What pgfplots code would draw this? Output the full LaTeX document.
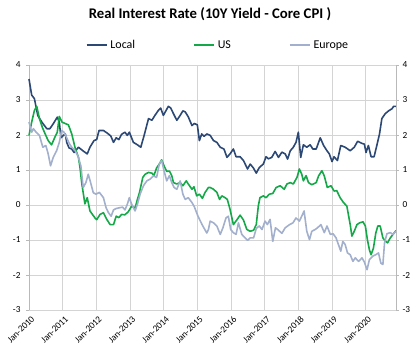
\documentclass[border=0pt]{standalone}
\usepackage{pgfplots}
\pgfplotsset{compat=1.18}
\usepackage{fontspec}
\setmainfont{Carlito}
\definecolor{localc}{RGB}{44,72,117}
\definecolor{usc}{RGB}{20,168,72}
\definecolor{euc}{RGB}{162,176,205}
\definecolor{gridc}{RGB}{212,212,212}
\definecolor{axc}{RGB}{185,185,185}
\begin{document}
\begin{tikzpicture}[x=1bp,y=1bp]
\useasboundingbox (0,0) rectangle (419,353);
\node[font=\bfseries\fontsize{14.8}{17}\selectfont] at (210,339) {Real Interest Rate (10Y Yield - Core CPI )};
\begin{axis}[
  at={(29bp,43bp)}, anchor=south west,
  width=367bp, height=245bp, scale only axis,
  xmin=2010, xmax=2020.9, ymin=-3, ymax=4,
  xtick={2010,2011,...,2020},
  xticklabels={Jan-2010,Jan-2011,Jan-2012,Jan-2013,Jan-2014,Jan-2015,Jan-2016,Jan-2017,Jan-2018,Jan-2019,Jan-2020},
  ytick={-3,-2,...,4},
  /pgf/number format/assume math mode=true,
  grid=major,
  major grid style={draw=gridc, line width=0.9bp},
  axis x line*=bottom, axis y line*=left,
  axis line style={draw=axc, line width=0.9bp},
  x axis line style={draw=none},
  tick style={draw=axc, line width=0.8bp},
  tick align=outside, major tick length=3bp,
  xtick style={draw=none},
  ticklabel style={font=\fontsize{9.3}{10}\selectfont, text=black},
  xticklabel style={rotate=45, anchor=east, xshift=3bp, yshift=-6bp},
  yticklabel style={xshift=-2bp},
  legend columns=3,
  legend style={at={(0.515,1.082)}, anchor=center, draw=none, fill=none,
    font=\fontsize{12}{14}\selectfont, inner sep=0pt,
    /tikz/every even column/.append style={column sep=56bp},
    /tikz/every odd column/.append style={column sep=1bp}},
  legend image code/.code={\draw[#1] (0bp,0bp) -- (20bp,0bp);},
  every axis plot/.append style={line width=1.6bp, line join=round},
  clip=false,
]
\addplot[localc] table {
2010.00 3.60
2010.08 3.14
2010.16 3.04
2010.26 2.56
2010.38 2.37
2010.53 2.18
2010.62 2.18
2010.72 2.32
2010.84 2.51
2010.90 2.37
2010.95 1.92
2011.02 1.99
2011.08 2.03
2011.12 1.79
2011.19 1.63
2011.27 1.60
2011.34 1.50
2011.47 1.65
2011.60 1.55
2011.73 1.46
2011.81 1.65
2011.93 1.84
2012.01 1.87
2012.08 2.13
2012.21 2.13
2012.33 2.05
2012.43 1.97
2012.51 1.79
2012.59 1.92
2012.67 1.87
2012.75 2.02
2012.85 2.08
2012.92 1.99
2012.98 2.08
2013.10 1.79
2013.22 1.72
2013.32 1.65
2013.42 1.99
2013.55 2.47
2013.65 2.42
2013.74 2.56
2013.84 2.70
2013.91 2.77
2013.99 2.56
2014.07 2.70
2014.14 2.82
2014.21 2.77
2014.29 2.61
2014.39 2.42
2014.49 2.56
2014.57 2.69
2014.64 2.66
2014.73 2.52
2014.84 2.27
2014.91 2.33
2015.00 2.29
2015.06 1.84
2015.13 2.03
2015.20 1.96
2015.28 2.03
2015.38 1.99
2015.48 1.84
2015.58 1.79
2015.68 1.65
2015.79 1.60
2015.88 1.36
2015.97 1.46
2016.07 1.60
2016.15 1.38
2016.27 1.38
2016.37 1.27
2016.49 1.03
2016.57 1.17
2016.67 1.05
2016.75 0.91
2016.84 1.07
2016.96 1.17
2017.04 1.38
2017.11 1.32
2017.21 1.36
2017.31 1.53
2017.41 1.36
2017.51 1.51
2017.61 1.46
2017.68 1.31
2017.76 1.55
2017.85 1.65
2017.93 1.79
2018.00 2.08
2018.07 1.36
2018.15 1.72
2018.25 1.65
2018.35 1.72
2018.43 1.60
2018.53 1.60
2018.65 1.92
2018.75 1.70
2018.85 1.55
2018.92 1.46
2019.00 1.24
2019.06 1.38
2019.16 1.27
2019.26 1.70
2019.39 1.65
2019.54 1.55
2019.66 1.65
2019.76 1.82
2019.89 1.76
2019.96 1.74
2020.01 1.50
2020.08 1.70
2020.16 1.38
2020.25 1.38
2020.33 1.70
2020.41 2.03
2020.48 2.47
2020.58 2.61
2020.68 2.69
2020.78 2.75
2020.83 2.82
2020.90 2.82
};
\addlegendentry{Local}
\addplot[usc] table {
2010.00 1.99
2010.08 2.37
2010.16 2.70
2010.23 2.82
2010.31 2.47
2010.40 2.21
2010.48 2.03
2010.57 1.84
2010.67 1.72
2010.77 1.94
2010.84 2.08
2010.90 2.53
2010.98 2.37
2011.07 2.33
2011.17 2.29
2011.27 2.03
2011.37 1.63
2011.47 1.36
2011.52 1.03
2011.57 0.60
2011.61 0.35
2011.66 0.03
2011.73 0.21
2011.81 -0.17
2011.96 -0.37
2012.01 -0.42
2012.11 -0.27
2012.21 -0.22
2012.31 -0.41
2012.41 -0.56
2012.51 -0.56
2012.59 -0.32
2012.67 -0.36
2012.75 -0.27
2012.85 -0.28
2012.95 -0.19
2013.05 -0.03
2013.15 -0.09
2013.22 0.16
2013.28 0.35
2013.38 0.79
2013.45 0.88
2013.55 0.93
2013.65 0.91
2013.71 0.84
2013.79 1.06
2013.87 1.17
2013.94 1.29
2014.01 1.12
2014.09 0.96
2014.17 0.97
2014.24 0.84
2014.29 0.64
2014.39 0.60
2014.49 0.64
2014.57 0.55
2014.67 0.69
2014.73 0.60
2014.84 0.45
2014.90 0.52
2014.98 0.26
2015.06 0.31
2015.15 0.19
2015.23 0.36
2015.33 0.50
2015.38 0.50
2015.48 0.45
2015.58 0.36
2015.66 0.16
2015.73 0.26
2015.82 0.21
2015.89 0.16
2015.97 -0.12
2016.07 -0.56
2016.17 -0.43
2016.27 -0.29
2016.37 -0.43
2016.47 -0.70
2016.57 -0.75
2016.67 -0.72
2016.75 -0.56
2016.81 -0.03
2016.86 0.21
2016.96 0.26
2017.04 0.21
2017.14 0.31
2017.24 0.33
2017.34 0.50
2017.46 0.55
2017.58 0.45
2017.66 0.60
2017.76 0.64
2017.85 0.60
2017.96 0.79
2018.03 1.03
2018.10 0.88
2018.15 0.69
2018.23 0.84
2018.30 0.64
2018.40 0.58
2018.53 0.64
2018.60 0.83
2018.70 0.98
2018.77 0.83
2018.86 0.50
2018.97 0.55
2019.06 0.40
2019.14 0.41
2019.24 0.21
2019.34 0.07
2019.44 -0.03
2019.54 -0.56
2019.59 -0.89
2019.66 -0.75
2019.74 -0.56
2019.82 -0.51
2019.92 -0.48
2019.99 -0.60
2020.05 -0.99
2020.11 -1.28
2020.16 -1.42
2020.23 -1.23
2020.30 -0.80
2020.36 -0.60
2020.43 -0.60
2020.51 -0.94
2020.58 -1.03
2020.65 -1.08
2020.73 -0.94
2020.81 -0.84
2020.90 -0.73
};
\addlegendentry{US}
\addplot[euc] table {
2010.00 2.37
2010.08 2.08
2010.13 2.18
2010.21 2.08
2010.31 1.99
2010.41 1.65
2010.50 1.70
2010.57 1.46
2010.64 1.12
2010.72 1.36
2010.82 1.55
2010.90 1.79
2010.97 2.13
2011.04 2.08
2011.12 1.92
2011.20 1.75
2011.27 1.65
2011.37 1.55
2011.45 1.41
2011.54 1.12
2011.61 0.50
2011.69 0.64
2011.76 0.88
2011.83 0.64
2011.91 0.35
2011.99 0.31
2012.09 0.36
2012.21 0.21
2012.29 -0.08
2012.36 -0.22
2012.44 -0.32
2012.51 -0.14
2012.59 -0.10
2012.68 -0.08
2012.78 -0.06
2012.85 -0.14
2012.92 0.02
2012.98 0.21
2013.05 0.02
2013.15 -0.17
2013.22 0.02
2013.30 0.31
2013.40 0.55
2013.50 0.69
2013.60 0.74
2013.69 0.83
2013.79 0.79
2013.87 1.17
2013.94 1.27
2014.01 0.98
2014.09 0.69
2014.17 0.84
2014.24 0.64
2014.31 0.50
2014.39 0.45
2014.49 0.69
2014.57 0.31
2014.64 0.16
2014.73 0.21
2014.84 0.07
2014.91 -0.05
2015.01 -0.30
2015.14 -0.56
2015.28 -0.80
2015.33 -0.70
2015.38 -0.46
2015.48 -0.51
2015.58 -0.60
2015.68 -0.84
2015.76 -0.65
2015.85 -0.37
2015.92 -0.32
2015.99 -0.70
2016.07 -0.79
2016.15 -0.84
2016.22 -0.51
2016.32 -0.84
2016.42 -0.94
2016.49 -1.01
2016.57 -0.94
2016.67 -0.94
2016.75 -0.67
2016.84 -0.60
2016.92 -0.70
2017.01 -0.46
2017.08 -0.56
2017.16 -0.41
2017.24 -1.04
2017.32 -0.65
2017.41 -0.72
2017.51 -0.81
2017.61 -0.65
2017.74 -0.56
2017.84 -0.51
2017.93 -0.37
2018.03 -0.46
2018.10 -0.32
2018.17 -0.17
2018.25 -0.75
2018.33 -0.99
2018.40 -0.75
2018.50 -0.70
2018.57 -0.65
2018.67 -0.56
2018.77 -0.79
2018.85 -0.60
2018.95 -0.84
2019.03 -0.82
2019.12 -0.94
2019.19 -1.13
2019.26 -1.32
2019.32 -1.04
2019.39 -1.13
2019.46 -1.37
2019.54 -1.42
2019.62 -1.61
2019.69 -1.51
2019.79 -1.61
2019.89 -1.51
2019.96 -1.63
2020.04 -1.85
2020.11 -1.56
2020.21 -1.46
2020.30 -1.42
2020.38 -1.37
2020.45 -1.66
2020.51 -1.70
2020.56 -1.08
2020.63 -0.82
2020.73 -0.79
2020.81 -0.84
2020.90 -0.75
};
\addlegendentry{Europe}
\end{axis}
\begin{axis}[
  at={(29bp,43bp)}, anchor=south west,
  width=367bp, height=245bp, scale only axis,
  xmin=2010, xmax=2020.9, ymin=-3, ymax=4,
  ytick={-3,-2,...,4},
  /pgf/number format/assume math mode=true,
  axis x line=none, axis y line*=right,
  axis line style={draw=axc, line width=0.9bp},
  tick style={draw=axc, line width=0.8bp},
  tick align=outside, major tick length=3bp,
  ticklabel style={font=\fontsize{9.3}{10}\selectfont, text=black},
]
\end{axis}
\end{tikzpicture}
\end{document}
